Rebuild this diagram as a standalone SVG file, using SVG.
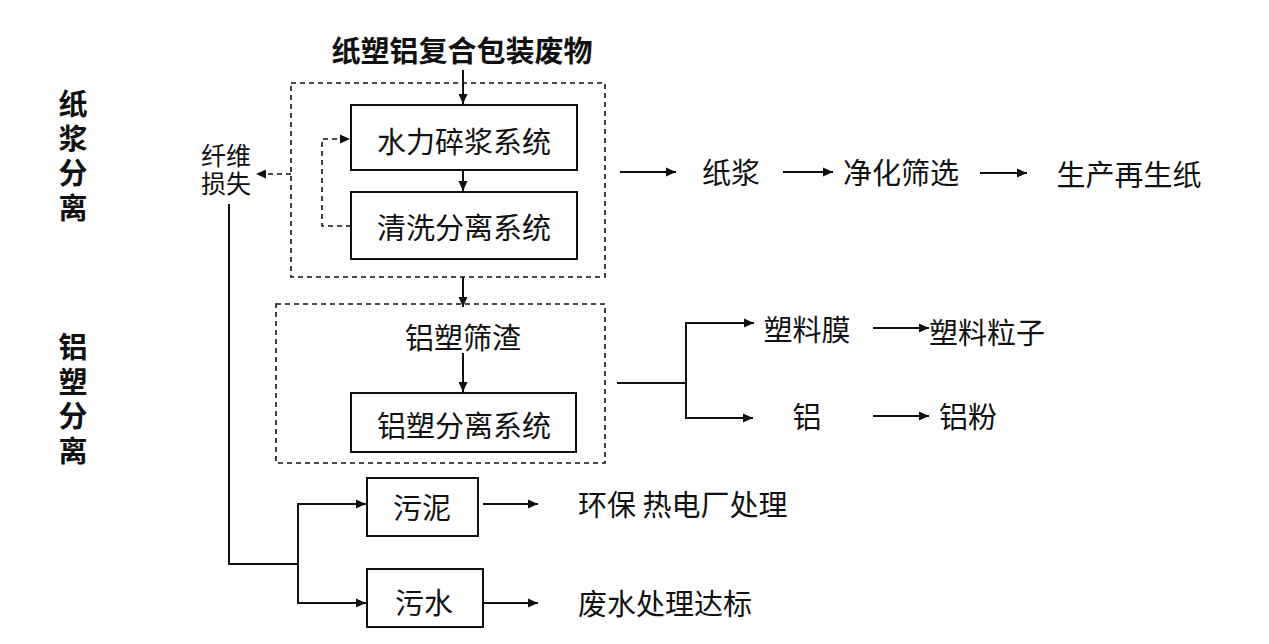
<svg xmlns="http://www.w3.org/2000/svg" width="1269" height="644" viewBox="0 0 1269 644">
<defs>
<style>
.t{font-family:"Noto Sans CJK SC","Noto Sans",sans-serif;font-size:29px;fill:#111;text-anchor:middle;dominant-baseline:central}
.ts{font-family:"Liberation Sans","Noto Sans CJK SC",sans-serif;font-size:25px}
.b{font-weight:bold}
.tl{text-anchor:start}
.v{writing-mode:vertical-rl;text-orientation:upright;text-anchor:start;letter-spacing:5.5px}
.box{fill:#fff;stroke:#111;stroke-width:2}
.dbox{fill:none;stroke:#111;stroke-width:1.6;stroke-dasharray:5 4}
.ln{fill:none;stroke:#111;stroke-width:2}
.dl{fill:none;stroke:#111;stroke-width:1.6;stroke-dasharray:5 4}
</style>
<marker id="ah" viewBox="0 0 10 10" refX="10" refY="5" markerWidth="10" markerHeight="10" markerUnits="userSpaceOnUse" orient="auto">
<path d="M0,0.5 L10,5 L0,9.5 z" fill="#111"/>
</marker>
</defs>
<rect width="1269" height="644" fill="#fff"/>

<g id="label-pulp"><text class="t b v" x="73" y="89.5">纸浆分离</text></g>
<g id="label-alu"><text class="t b v" x="73" y="332.5">铝塑分离</text></g>

<g id="title"><text class="t b" x="462" y="49">纸塑铝复合包装废物</text></g>

<g id="group-pulp"><rect class="dbox" x="291" y="83" width="314" height="194"/></g>
<g id="group-alu"><rect class="dbox" x="276" y="304" width="329" height="159"/></g>

<g id="n-hydro"><rect class="box" x="351" y="105" width="226" height="65"/><text class="t" x="464" y="140">水力碎浆系统</text></g>
<g id="n-wash"><rect class="box" x="351" y="192" width="226" height="67"/><text class="t" x="464" y="226">清洗分离系统</text></g>
<g id="n-fiber"><text class="t ts" x="226" y="156"><tspan x="226" y="156">纤维</tspan><tspan x="226" dy="28">损失</tspan></text></g>
<g id="n-residue"><text class="t" x="463" y="336">铝塑筛渣</text></g>
<g id="n-alusep"><rect class="box" x="351" y="393" width="225" height="59"/><text class="t" x="464" y="424">铝塑分离系统</text></g>
<g id="n-pulp"><text class="t" x="731" y="171">纸浆</text></g>
<g id="n-clean"><text class="t" x="901" y="171">净化筛选</text></g>
<g id="n-paper"><text class="t" x="1129" y="173">生产再生纸</text></g>
<g id="n-film"><text class="t" x="807" y="328">塑料膜</text></g>
<g id="n-pellet"><text class="t" x="987" y="331">塑料粒子</text></g>
<g id="n-al"><text class="t" x="807" y="415">铝</text></g>
<g id="n-alpow"><text class="t" x="968" y="415">铝粉</text></g>
<g id="n-sludge"><rect class="box" x="367" y="478" width="111" height="58"/><text class="t" x="422" y="506">污泥</text></g>
<g id="n-water"><rect class="box" x="367" y="569" width="116" height="58"/><text class="t" x="424" y="601">污水</text></g>
<g id="n-plant"><text class="t tl" x="578" y="503">环保 热电厂处理</text></g>
<g id="n-wwt"><text class="t tl" x="578" y="602">废水处理达标</text></g>

<g id="connectors">
<line class="ln" x1="463" y1="70" x2="463" y2="104" marker-end="url(#ah)"/>
<line class="ln" x1="463" y1="170" x2="463" y2="191" marker-end="url(#ah)"/>
<polyline class="dl" points="351,226 322,226 322,139 350,139" marker-end="url(#ah)"/>
<line class="dl" x1="291" y1="174" x2="256" y2="174" marker-end="url(#ah)"/>
<line class="ln" x1="463" y1="277" x2="463" y2="307" marker-end="url(#ah)"/>
<line class="ln" x1="463" y1="353" x2="463" y2="392" marker-end="url(#ah)"/>
<line class="ln" x1="620" y1="172" x2="676" y2="172" marker-end="url(#ah)"/>
<line class="ln" x1="783" y1="172" x2="833" y2="172" marker-end="url(#ah)"/>
<line class="ln" x1="980" y1="173" x2="1027" y2="173" marker-end="url(#ah)"/>
<polyline class="ln" points="617,383 686,383"/>
<polyline class="ln" points="686,383 686,323 754,323" marker-end="url(#ah)"/>
<polyline class="ln" points="686,383 686,418 753,418" marker-end="url(#ah)"/>
<line class="ln" x1="873" y1="328" x2="929" y2="328" marker-end="url(#ah)"/>
<line class="ln" x1="873" y1="416" x2="929" y2="416" marker-end="url(#ah)"/>
<polyline class="ln" points="229,204 229,564 298,564"/>
<polyline class="ln" points="298,564 298,504 366,504" marker-end="url(#ah)"/>
<polyline class="ln" points="298,564 298,603 366,603" marker-end="url(#ah)"/>
<line class="ln" x1="483" y1="504" x2="538" y2="504" marker-end="url(#ah)"/>
<line class="ln" x1="483" y1="603" x2="538" y2="603" marker-end="url(#ah)"/>
</g>
</svg>
